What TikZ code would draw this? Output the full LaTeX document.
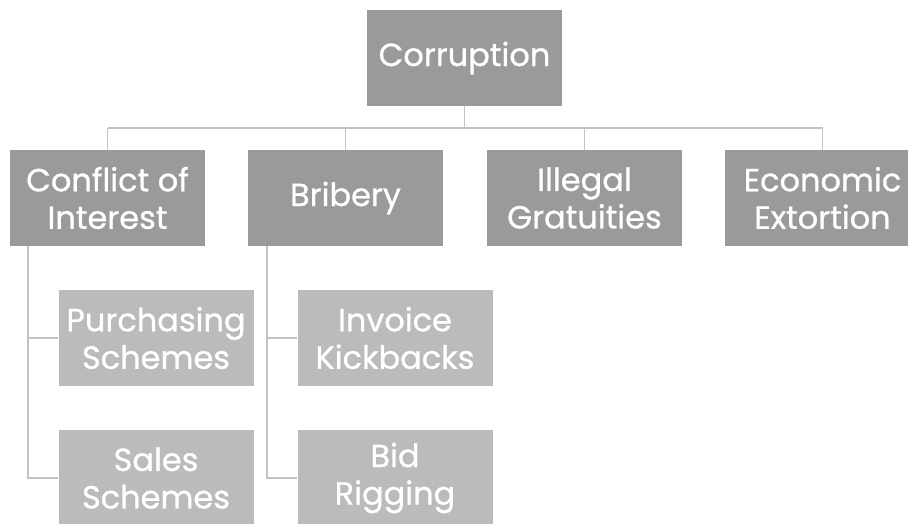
\documentclass[tikz,border=0pt]{standalone}
\usepackage{fontspec}
\setmainfont{Poppins}
\newfontfamily\boxfont{Poppins}[FakeBold=0.8]
\definecolor{darkbox}{HTML}{9A9A9A}
\definecolor{lightbox}{HTML}{BBBBBB}
\definecolor{linec}{HTML}{C2C2C2}
\begin{document}
\begin{tikzpicture}[x=1pt,y=-1pt,
  box/.style={rectangle, minimum width=195pt, minimum height=96pt, inner sep=0pt,
    text=white, align=center, font=\boxfont\fontsize{32}{37.5}\selectfont},
  top/.style={box, fill=darkbox},
  sub/.style={box, fill=lightbox},
  conn/.style={draw=linec, line width=1.8pt}]
\useasboundingbox (0,0) rectangle (908,523);
\clip (0,0) rectangle (908,523);
\node[top] (root) at (464.5,58) {Corruption};
\node[top] (coi) at (107.5,198) {Conflict of\\Interest};
\node[top] (bri) at (345.5,198) {Bribery};
\node[top] (ill) at (584.5,198) {Illegal\\Gratuities};
\node[top] (eco) at (822.5,198) {Economic\\Extortion};
\node[sub] (pur) at (156,338) {Purchasing\\Schemes};
\node[sub] (sal) at (156,478) {Sales\\Schemes};
\node[sub] (inv) at (395,338) {Invoice\\Kickbacks};
\node[sub] (bid) at (395,478) {Bid\\Rigging};
\coordinate (bus) at (0,128);
\coordinate (sp1) at (28,0);
\coordinate (sp2) at (267,0);
\draw[conn] (root.south) -- (root.south |- bus);
\draw[conn] (coi.north |- bus) -- (eco.north |- bus);
\foreach \n in {coi,bri,ill,eco} \draw[conn] (\n.north) -- (\n.north |- bus);
\draw[conn] (coi.south -| sp1) |- (pur.west);
\draw[conn] (coi.south -| sp1) |- (sal.west);
\draw[conn] (bri.south -| sp2) |- (inv.west);
\draw[conn] (bri.south -| sp2) |- (bid.west);
\end{tikzpicture}
\end{document}
